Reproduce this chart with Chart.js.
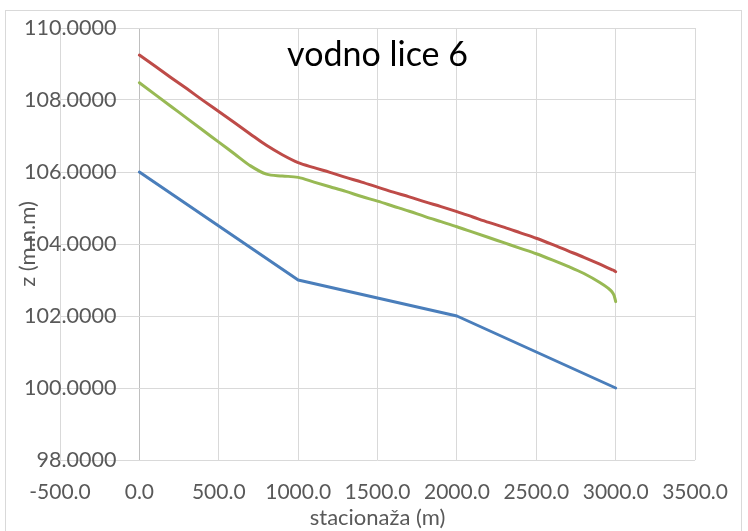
<!DOCTYPE html>
<html>
<head>
<meta charset="utf-8">
<script src="https://cdn.jsdelivr.net/npm/chart.js@4.4.0/dist/chart.umd.min.js"></script>
<style>
    html, body { margin: 0; padding: 0; background: #ffffff; }
    #graf { display: block; }
</style>
</head>
<body>
<canvas id="graf" width="748" height="531"></canvas>
<script>
// Podaci za graf
var naslov = "vodno lice 6";
var naslovX = "stacionaža (m)";
var naslovY = "z (m.n.m)";

var xTicks = [-500, 0, 500, 1000, 1500, 2000, 2500, 3000, 3500];
var yTicks = [98, 100, 102, 104, 106, 108, 110];

// dno korita
var stacDno = [0, 1000, 2000, 3000];
var zDno = [106.00, 103.00, 102.00, 100.00];

// vodno lice
var stacVode = [0, 100, 200, 300, 400, 500, 600, 700, 800, 900, 1000, 1100, 1200, 1300, 1400, 1500,
    1600, 1700, 1800, 1900, 2000, 2100, 2200, 2300, 2400, 2500, 2600, 2700, 2800, 2900, 2950, 2975, 2990, 3000];
var zGornja = [109.25, 108.94, 108.62, 108.31, 107.99, 107.68, 107.37, 107.05, 106.74, 106.48, 106.26, 106.12,
    105.99, 105.85, 105.72, 105.58, 105.44, 105.31, 105.17, 105.04, 104.90, 104.75, 104.60, 104.46, 104.31,
    104.16, 103.99, 103.81, 103.63, 103.44, 103.34, 103.29, 103.26, 103.23];
var zDonja = [108.48, 108.15, 107.82, 107.49, 107.16, 106.83, 106.50, 106.17, 105.94, 105.89, 105.85, 105.72,
    105.59, 105.46, 105.32, 105.19, 105.05, 104.91, 104.76, 104.62, 104.48, 104.33, 104.18, 104.03, 103.88,
    103.73, 103.56, 103.38, 103.18, 102.93, 102.78, 102.68, 102.57, 102.40];

// Funkcija za parove tocaka
function tocke(xs, ys) {
    var out = [];
    for (var i = 0; i < xs.length; i++) {
        out.push({ x: xs[i], y: ys[i] });
    }
    return out;
}

var font = "Lato, 'Open Sans', sans-serif";
var siva = "#595959";

// Plugin za natpise osi Y, naslov i okvir
var natpisi = {
    id: "natpisi",
    afterDraw: function (chart) {
        var ctx = chart.ctx;
        var sx = chart.scales.x;
        var sy = chart.scales.y;
        var x0 = sx.getPixelForValue(0);
        ctx.save();
        ctx.font = "21.5px " + font;
        ctx.fillStyle = siva;
        ctx.textAlign = "right";
        ctx.textBaseline = "middle";
        yTicks.forEach(function (v) {
            ctx.fillText(v.toFixed(4), x0 - 23, sy.getPixelForValue(v));
        });
        // naslov osi Y
        ctx.save();
        ctx.translate(28, (chart.chartArea.top + chart.chartArea.bottom) / 2);
        ctx.rotate(-Math.PI / 2);
        ctx.textAlign = "center";
        ctx.font = "22px " + font;
        ctx.fillText(naslovY, 0, 0);
        ctx.restore();
        // naslov grafa
        ctx.font = "34px " + font;
        ctx.fillStyle = "#000000";
        ctx.textAlign = "center";
        ctx.textBaseline = "alphabetic";
        ctx.fillText(naslov, (chart.chartArea.left + chart.chartArea.right) / 2, 66);
        // okvir
        ctx.strokeStyle = "#d9d9d9";
        ctx.lineWidth = 1;
        ctx.strokeRect(5.5, 10.5, 736, 530);
        ctx.restore();
    }
};

var ctx = document.getElementById("graf").getContext("2d");
new Chart(ctx, {
    type: "scatter",
    data: {
        datasets: [{
            label: "dno",
            data: tocke(stacDno, zDno),
            showLine: true,
            borderColor: "#4A7EBB",
            borderWidth: 3,
            borderCapStyle: "round",
            borderJoinStyle: "round",
            pointRadius: 0,
            tension: 0
        }, {
            label: "vodno lice 1",
            data: tocke(stacVode, zGornja),
            showLine: true,
            borderColor: "#BE4B48",
            borderWidth: 3,
            borderCapStyle: "round",
            pointRadius: 0,
            cubicInterpolationMode: "monotone"
        }, {
            label: "vodno lice 2",
            data: tocke(stacVode, zDonja),
            showLine: true,
            borderColor: "#98B954",
            borderWidth: 3,
            borderCapStyle: "round",
            pointRadius: 0,
            cubicInterpolationMode: "monotone"
        }]
    },
    options: {
        responsive: false,
        animation: false,
        layout: {
            padding: { left: 60, right: 47, top: 28, bottom: 0 }
        },
        plugins: {
            legend: { display: false },
            tooltip: { enabled: false }
        },
        scales: {
            x: {
                type: "linear",
                min: xTicks[0],
                max: xTicks[xTicks.length - 1],
                afterBuildTicks: function (s) {
                    s.ticks = xTicks.map(function (v) { return { value: v }; });
                },
                afterFit: function (s) { s.height = 71; },
                grid: {
                    drawTicks: false,
                    lineWidth: 1,
                    color: function (c) {
                        return c.tick && c.tick.value === 0 ? "#bfbfbf" : "#d9d9d9";
                    }
                },
                border: { display: false },
                ticks: {
                    padding: 20,
                    color: siva,
                    font: { family: font, size: 21 },
                    maxRotation: 0,
                    autoSkip: false,
                    callback: function (v) { return Number(v).toFixed(1); }
                },
                title: {
                    display: true,
                    text: naslovX,
                    color: siva,
                    padding: 0,
                    font: { family: font, size: 22 }
                }
            },
            y: {
                type: "linear",
                min: yTicks[0],
                max: yTicks[yTicks.length - 1],
                afterBuildTicks: function (s) {
                    s.ticks = yTicks.map(function (v) { return { value: v }; });
                },
                afterFit: function (s) { s.width = 0; },
                grid: { drawTicks: false, color: "#d9d9d9", lineWidth: 1 },
                border: { display: false },
                ticks: { display: false },
                title: { display: false }
            }
        }
    },
    plugins: [natpisi]
});
</script>
</body>
</html>
